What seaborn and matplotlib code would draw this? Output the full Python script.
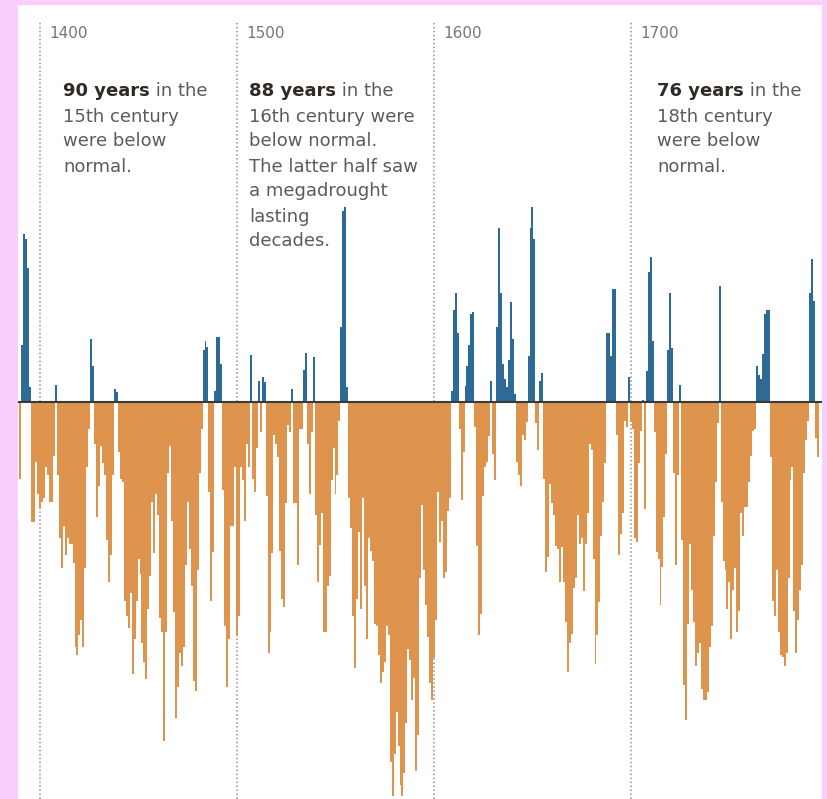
import numpy as np
import pandas as pd
import seaborn as sns
import matplotlib.pyplot as plt

# yearly drought index (positive = wetter than normal)
first_year = 1390
dev_1390_1444 = [-77, 57, 168, 163, 134, 15,
                 -120, -120, -60, -92, -107, -100, -96, -65, -73, -100, -100, -54,
                 17,
                 -73, -136, -166, -124, -153, -136, -142, -142, -161, -245, -253, -233,
                 -218, -245, -166, -65, -27,
                 63, 36,
                 -42, -115, -84, -44, -61, -73, -138, -180, -153, -73,
                 13, 10,
                 -50, -77, -80, -199, -214]
dev_1445_1492 = [-226, -191, -272, -237, -199, -157, -172, -241, -260, -277,
                 -207, -174, -100, -151, -92, -113, -216, -230, -339, -230,
                 -71, -44, -119, -210, -316, -285, -251, -264, -245, -163,
                 -100, -147, -184, -279, -289, -168, -71, -27,
                 52, 61, 55,
                 -90, -199, -150,
                 11, 65, 65, 38]
dev_1493_1562 = [-88, -224, -285, -237, -124, -124, -65, -233, -214, -65, -78, -119, -42, -65,
                 47,
                 -77, -90, -46,
                 21, -30, 25, 20,
                 -94, -251, -230, -151, -33, -42, -55, -149, -197, -205, -101, -23, -30,
                 13,
                 -101, -101, -163, -27, -27,
                 32, 49,
                 -42, -92, -30,
                 45,
                 -113, -180, -143, -111, -230, -230, -184, -174, -78, -46, -92, -73, -19,
                 75, 191, 195, 15,
                 -96, -126, -214, -266, -197, -130]
dev_1563_1622 = [-207, -96, -184, -237, -136, -149, -159, -222, -224, -253,
                 -281, -270, -260, -224, -233, -360, -394, -352, -310, -344,
                 -383, -394, -371, -321, -247, -258, -298, -276, -369, -333,
                 -176, -103, -168, -203, -235, -281, -298, -256, -218, -90,
                 -140, -119, -176, -170, -109, -96, 11, 92, 109, 69,
                 -27, -98, -50, 16, 36, 57, 88, 90, -25, -144]
dev_1623_1679 = [-233, -212, -94, -65, -60, -34, 21, -52, -78, 75,
                 174, 109, 38, 23, 15, 42, 100, 63, 8, -60,
                 -73, -84, -33, -38, -20, 46, 174, 195, 163, -21,
                 -48, 21, 29,
                 -77, -170, -155, -82, -101, -113, -144, -147, -180, -145, -180, -220,
                 -270, -241, -232, -186, -176, -113, -142, -136, -189, -142, -111, -42]
dev_1680_1737 = [-48, -157, -262, -233, -200, -134, -100, -61, 69, 69,
                 46, 113, 113, -33, -153, -132, -111, -19, -25, 25,
                 -20, -27, -136, -140, -61, -29, 2, -107, 31, 130,
                 145, 61, -30, -150, -157, -203, -165, -115, -52, 52,
                 109, 54, -71, -163, -73, 17, -138, -283, -318, -222,
                 -142, -188, -220, -264, -251, -241, -287, -298]
dev_1738_1795 = [-298, -290, -245, -224, -134, -80, -21, 116, -100, -159,
                 -168, -207, -180, -237, -188, -166, -230, -209, -111, -134,
                 -105, -105, -80, -54, -29, -27, 36, 27, 23, 48,
                 88, 92, 92, -55, -199, -214, -168, -230, -253, -255,
                 -264, -251, -176, -78, -65, -209, -251, -218, -188, -163,
                 -71, -38, -19, 109, 143, 101, -36, -55]

century_marks = [1400, 1500, 1600, 1700]
note_leads = ["90 years", "88 years", "76 years"]
note_first = [" in the", " in the", " in the"]
note_rest = [["15th century", "were below", "normal."],
             ["16th century were", "below normal.", "The latter half saw",
              "a megadrought", "lasting", "decades."],
             ["18th century", "were below", "normal."]]

values = (dev_1390_1444 + dev_1445_1492 + dev_1493_1562 + dev_1563_1622
          + dev_1623_1679 + dev_1680_1737 + dev_1738_1795)
df = pd.DataFrame({"year": first_year + np.arange(len(values)), "value": values})
df["kind"] = np.where(df["value"] > 0, "wet", "dry")

BLUE = "#2e6a96"
ORANGE = "#de944c"
PINK = "#fbcdfb"

sns.set_style("white")
W, H = 828, 799
fig = plt.figure(figsize=(W / 100, H / 100), dpi=100, facecolor=PINK)
ax = fig.add_axes([18 / W, 0, 804 / W, 794 / H])
ax.set_facecolor("white")

sns.barplot(data=df, x="year", y="value", hue="kind",
            palette={"wet": BLUE, "dry": ORANGE}, saturation=1, dodge=False,
            native_scale=True, width=1.0, errorbar=None, legend=False,
            linewidth=0, ax=ax, zorder=2)

ax.set_xlim(1388.8, 1797.0)
ax.set_ylim(-397, 397)
ax.axhline(0, color="#3a3a3a", lw=1.5, zorder=3)
ax.vlines(century_marks, -397, 380, colors="#8f8f8f",
          linestyles=(0, (1, 1.6)), lw=1.1, zorder=0)
for yr in century_marks:
    ax.text(yr + 4.6, 364, str(yr), fontsize=11, color="#7a7670",
            va="baseline", ha="left")

ax.set_xlabel("")
ax.set_ylabel("")
ax.set_xticks([])
ax.set_yticks([])
for s in ax.spines.values():
    s.set_visible(False)

# annotations (pixel positions from the top-left of the picture)
note_x = [63, 249, 657]
for x, lead, first, rest in zip(note_x, note_leads, note_first, note_rest):
    base = 96.5
    t = fig.text(x / W, 1 - base / H, lead, fontsize=13, fontweight="bold",
                 color="#2f2a25", va="baseline", ha="left")
    ax.annotate(first, xy=(1, 0), xycoords=t, fontsize=13, color="#5f5a55",
                va="bottom", ha="left")
    for i, line in enumerate(rest, start=1):
        fig.text(x / W, 1 - (base + 25 * i) / H, line, fontsize=13,
                 color="#5f5a55", va="baseline", ha="left")

fig.savefig("out.png", dpi=100, facecolor=PINK)
